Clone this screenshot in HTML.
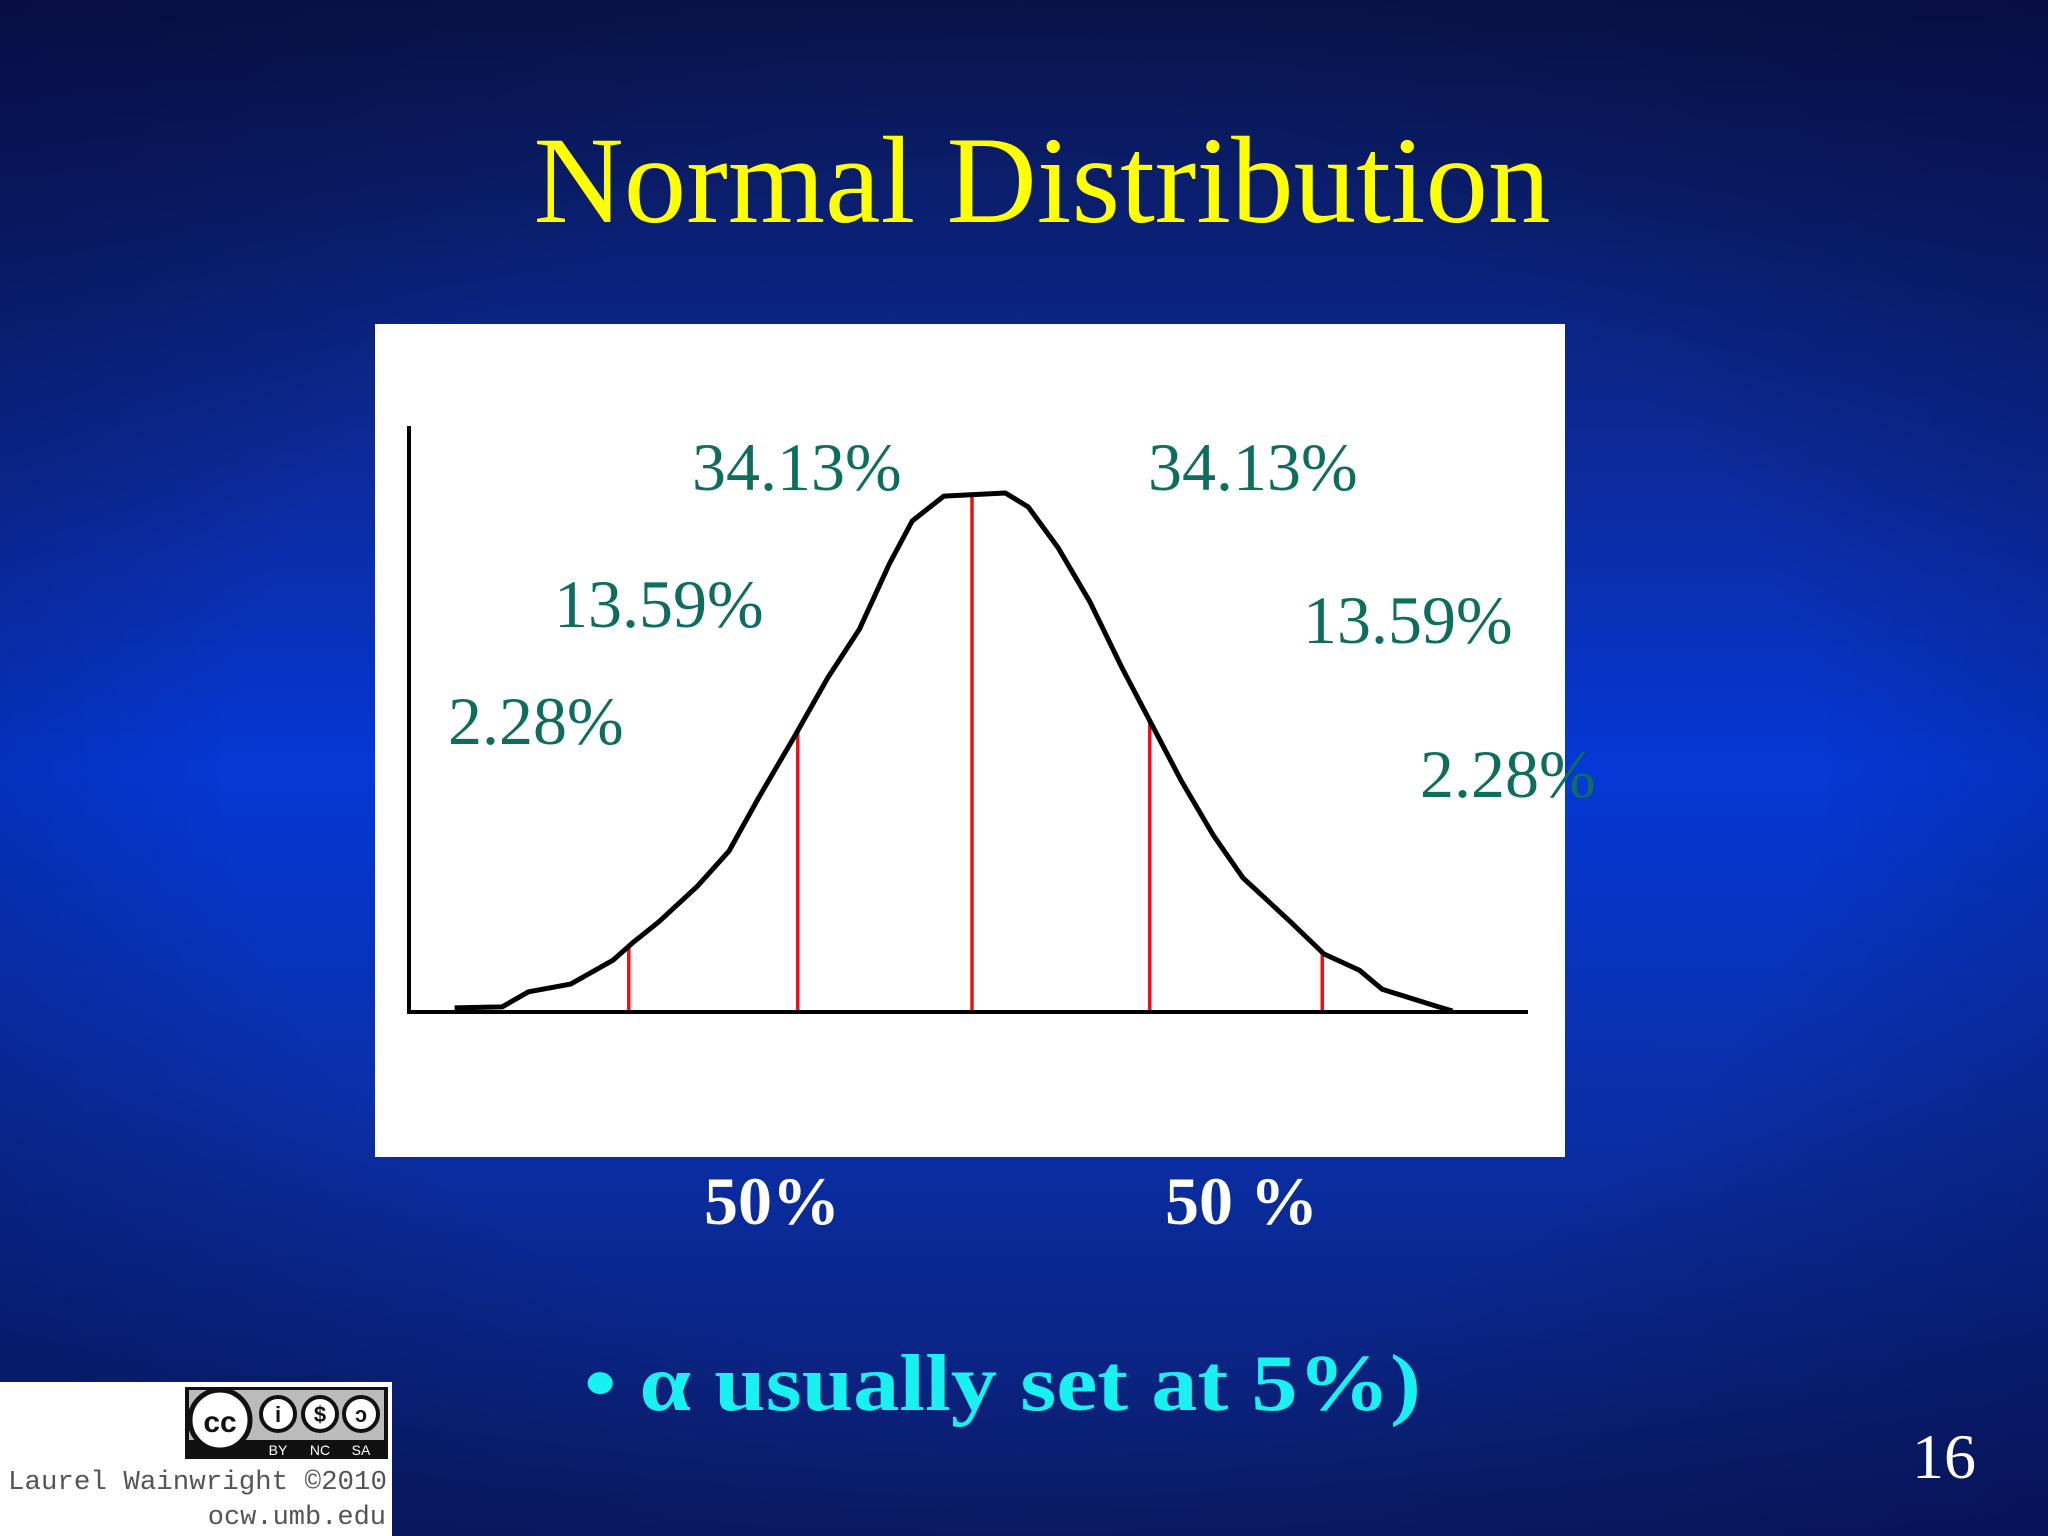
<!DOCTYPE html>
<html><head><meta charset="utf-8"><style>
html,body{margin:0;padding:0;width:2048px;height:1536px;overflow:hidden}
body{background:linear-gradient(180deg,#0a1650 0%,#0c2a9a 30%,#0638d6 50%,#0a2fa8 72%,#0b1d6e 100%)}
svg{position:absolute;left:0;top:0}
</style></head><body>
<svg width="2048" height="1536" viewBox="0 0 2048 1536">
<defs>
<radialGradient id="vig" cx="50%" cy="50%" r="70%">
<stop offset="55%" stop-color="#000" stop-opacity="0"/>
<stop offset="100%" stop-color="#000030" stop-opacity="0.35"/>
</radialGradient>
</defs>
<rect width="2048" height="1536" fill="url(#vig)"/>
<text x="1042" y="222" text-anchor="middle" font-family="Liberation Serif, serif" font-size="124" fill="#ffff00" textLength="1017" lengthAdjust="spacingAndGlyphs">Normal Distribution</text>
<rect x="375" y="324" width="1190" height="833" fill="#fff"/>
<g id="chart"></g>
<g font-family="Liberation Serif, serif" font-size="68" fill="#0e6e5e">
<text x="692" y="490">34.13%</text>
<text x="1148" y="490">34.13%</text>
<text x="554" y="627">13.59%</text>
<text x="1303" y="643">13.59%</text>
<text x="448" y="744">2.28%</text>
<text x="1420" y="797">2.28%</text>
</g>
<g font-family="Liberation Serif, serif" font-size="68" font-weight="bold" fill="#fff">
<text x="704" y="1224">50%</text>
<text x="1165" y="1224">50 %</text>
</g>
<text x="584" y="1410" font-family="Liberation Serif, serif" font-size="80" font-weight="bold" fill="#19f0f0" textLength="837" lengthAdjust="spacingAndGlyphs">• α usually set at 5%)</text>
<text x="1944" y="1478" text-anchor="middle" font-family="Liberation Serif, serif" font-size="64" fill="#fff">16</text>
<g>
<rect x="0" y="1382" width="392" height="154" fill="#fff"/>
<rect x="185" y="1387" width="203" height="72" fill="#111"/>
<rect x="189" y="1390" width="195" height="50" fill="#bbb"/>
<circle cx="220" cy="1420" r="30" fill="#fff" stroke="#111" stroke-width="5"/>
<text x="220" y="1432" text-anchor="middle" font-family="Liberation Sans, sans-serif" font-weight="bold" font-size="30" fill="#111">cc</text>
<circle cx="278" cy="1414" r="17" fill="#fff" stroke="#111" stroke-width="4"/>
<circle cx="320" cy="1414" r="17" fill="#fff" stroke="#111" stroke-width="4"/>
<circle cx="361" cy="1414" r="17" fill="#fff" stroke="#111" stroke-width="4"/>
<text x="278" y="1422" text-anchor="middle" font-family="Liberation Sans, sans-serif" font-weight="bold" font-size="22" fill="#111">i</text>
<text x="320" y="1422" text-anchor="middle" font-family="Liberation Sans, sans-serif" font-weight="bold" font-size="22" fill="#111">$</text>
<text x="361" y="1422" text-anchor="middle" font-family="Liberation Sans, sans-serif" font-weight="bold" font-size="22" fill="#111">ↄ</text>
<text x="278" y="1455" text-anchor="middle" font-family="Liberation Sans, sans-serif" font-size="14" fill="#fff">BY</text>
<text x="320" y="1455" text-anchor="middle" font-family="Liberation Sans, sans-serif" font-size="14" fill="#fff">NC</text>
<text x="361" y="1455" text-anchor="middle" font-family="Liberation Sans, sans-serif" font-size="14" fill="#fff">SA</text>
<text x="8" y="1489" font-family="Liberation Mono, monospace" font-size="27" fill="#555" textLength="379" lengthAdjust="spacingAndGlyphs">Laurel Wainwright ©2010</text>
<text x="386" y="1524" text-anchor="end" font-family="Liberation Mono, monospace" font-size="27" fill="#555">ocw.umb.edu</text>
</g>
</svg>
<script>
// z-scores (standard deviations from mean)
const curveZ = [-2.94,-2.67,-2.52,-2.28,-2.04,-1.93,-1.78,-1.56,-1.38,-1.21,-1.01,-0.82,-0.64,-0.47,-0.34,-0.16,0.19,0.32,0.49,0.67,0.85,1.02,1.19,1.37,1.54,1.81,2.00,2.20,2.33,2.63,2.73];
// relative density (peak = 1)
const curveH = [0.006,0.008,0.037,0.052,0.098,0.131,0.172,0.241,0.309,0.413,0.529,0.643,0.737,0.863,0.946,0.994,1.0,0.973,0.894,0.790,0.664,0.554,0.444,0.340,0.257,0.172,0.110,0.079,0.042,0.010,0.0];
const markerZ = [-1.95,-0.99,0,1.01,1.99];

const NS='http://www.w3.org/2000/svg';
const g=document.getElementById('chart');
function xs(z){return 972+z*176;}
function ys(h){return 1011-h*518;}
function hAt(z){
  for(let i=0;i<curveZ.length-1;i++){
    if(z>=curveZ[i]&&z<=curveZ[i+1]){const t=(z-curveZ[i])/(curveZ[i+1]-curveZ[i]);return curveH[i]+t*(curveH[i+1]-curveH[i]);}
  }
  return 0;
}
function mk(tag,attrs){const e=document.createElementNS(NS,tag);for(const k in attrs)e.setAttribute(k,attrs[k]);g.appendChild(e);return e;}
const yax=mk('line',{x1:409,y1:426,x2:409,y2:1013,stroke:'#000','stroke-width':4});


markerZ.forEach(z=>{
  const l=mk('line',{x1:xs(z),x2:xs(z),y1:ys(hAt(z)),y2:1011,stroke:'#ee1111','stroke-width':3.5});
  
  
});
const pts=curveZ.map((z,i)=>xs(z).toFixed(1)+','+ys(curveH[i]).toFixed(1)).join(' ');
const curve=mk('polyline',{points:pts,fill:'none',stroke:'#000','stroke-width':5,'stroke-linejoin':'round'});


const xax=mk('line',{x1:407,y1:1012,x2:1528,y2:1012,stroke:'#000','stroke-width':4});


</script>
</body></html>
